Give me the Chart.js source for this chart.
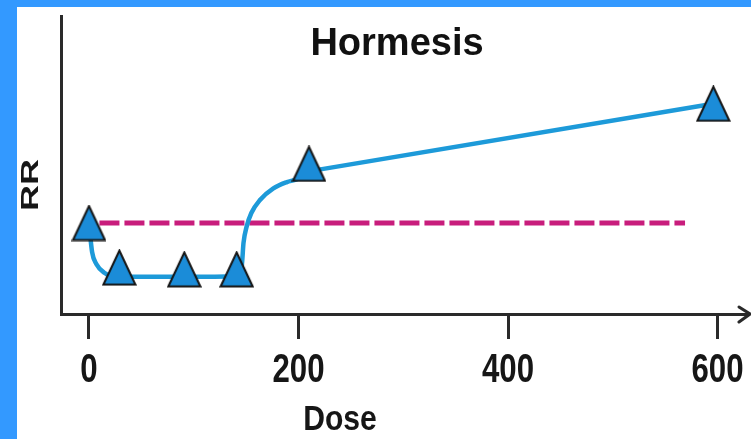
<!DOCTYPE html>
<html>
<head>
<meta charset="utf-8">
<script src="https://cdn.jsdelivr.net/npm/chart.js@4/dist/chart.umd.min.js"></script>
<style>
  html, body { margin: 0; padding: 0; background: #3399ff; overflow: hidden; }
  #frame { position: absolute; left: 17px; top: 7px; width: 734px; height: 432px; background: #fff; }
</style>
</head>
<body>
<div id="frame"><canvas id="DataChart"></canvas></div>
<script>
// measured points (triangles)
const markerDose = [0, 29, 91, 141, 210, 596];
const markerRR = [1.0, 0.51, 0.49, 0.49, 1.65, 2.31];

// the drawn curve, read along the line up to the 5th point
const curveDose = [0, 3, 7, 15, 24, 60, 120, 141, 146, 147.5, 150.5, 155, 163, 176, 189, 198, 211];
const curveRR = [1.0, 0.68, 0.55, 0.45, 0.41, 0.41, 0.41, 0.42, 0.55, 0.78, 0.96, 1.11, 1.25, 1.38, 1.45, 1.48, 1.57];

// straight part to the last point
const lineDose = [211, 596];
const lineRR = [1.57, 2.31];

// dashed reference line RR = 1
const refDose = [10, 569];
const refRR = [1.0, 1.0];

const xTicks = [0, 200, 400, 600];

const axisColor = '#2a2a2a';
const sans = "'Liberation Sans', Arial, sans-serif";

const toXY = (xs, ys) => xs.map((x, i) => ({ x: x, y: ys[i] }));

// triangle marker, a bit taller than equilateral like the original
function makeTriangle() {
  const c = document.createElement('canvas');
  c.width = 35; c.height = 37;
  const ctx = c.getContext('2d');
  ctx.beginPath();
  ctx.moveTo(17.5, 1.5);
  ctx.lineTo(33.5, 35.5);
  ctx.lineTo(1.5, 35.5);
  ctx.closePath();
  ctx.fillStyle = '#1b8cd8';
  ctx.fill();
  ctx.lineWidth = 2;
  ctx.strokeStyle = '#151515';
  ctx.stroke();
  return c;
}

// condensed text: squeeze horizontally
function squeezed(ctx, text, x, y, sx) {
  ctx.save();
  ctx.translate(x, y);
  ctx.scale(sx, 1);
  ctx.fillText(text, 0, 0);
  ctx.restore();
}

const decor = {
  id: 'decor',
  afterDraw: (chart) => {
    const ctx = chart.ctx;
    const area = chart.chartArea;
    const xs = chart.scales.x;
    ctx.save();
    ctx.fillStyle = '#111';
    ctx.textAlign = 'center';
    ctx.textBaseline = 'alphabetic';
    // title
    ctx.font = 'bold 38px ' + sans;
    ctx.fillText('Hormesis', 380, 48);
    // tick labels
    ctx.fillStyle = '#161616';
    ctx.font = 'bold 40px ' + sans;
    xTicks.forEach(v => squeezed(ctx, String(v), xs.getPixelForValue(v), 375, 0.78));
    // x axis title
    ctx.font = 'bold 35px ' + sans;
    squeezed(ctx, 'Dose', 323, 423, 0.86);
    // y axis title, stretched
    ctx.save();
    ctx.translate(13, 178);
    ctx.rotate(-Math.PI / 2);
    ctx.scale(1.5, 1);
    ctx.textBaseline = 'middle';
    ctx.font = 'bold 24px ' + sans;
    ctx.fillText('RR', 0, 1);
    ctx.restore();
    // arrow head at end of x axis
    const y0 = area.bottom;
    ctx.strokeStyle = axisColor;
    ctx.lineWidth = 3;
    ctx.lineCap = 'round';
    ctx.beginPath();
    ctx.moveTo(area.right - 9, y0 - 7);
    ctx.lineTo(area.right + 2, y0);
    ctx.lineTo(area.right - 9, y0 + 8);
    ctx.stroke();
    ctx.restore();
  }
};

const config = {
  type: 'line',
  data: {
    datasets: [
      {
        label: 'Points',
        data: toXY(markerDose, markerRR),
        showLine: false,
        pointStyle: makeTriangle(),
        pointRadius: 17,
        pointHoverRadius: 17
      },
      {
        label: 'Curve',
        data: toXY(curveDose, curveRR),
        borderColor: '#1d9ad9',
        borderWidth: 4.5,
        pointRadius: 0,
        cubicInterpolationMode: 'monotone',
        fill: false
      },
      {
        label: 'Line',
        data: toXY(lineDose, lineRR),
        borderColor: '#1d9ad9',
        borderWidth: 4.5,
        pointRadius: 0,
        tension: 0,
        fill: false
      },
      {
        label: 'Reference',
        data: toXY(refDose, refRR),
        borderColor: '#c81d7c',
        borderWidth: 5,
        borderDash: [20, 5],
        pointRadius: 0,
        fill: false
      }
    ]
  },
  options: {
    responsive: true,
    maintainAspectRatio: false,
    animation: false,
    layout: { autoPadding: false, padding: { left: 0, right: 3, top: 9, bottom: 0 } },
    scales: {
      x: {
        type: 'linear',
        min: -26.7,
        max: 629.1,
        afterFit: (scale) => {
          scale.height = 125;
          scale.paddingLeft = 0;
          scale.paddingRight = 0;
        },
        afterBuildTicks: (scale) => { scale.ticks = xTicks.map(v => ({ value: v })); },
        border: { display: true, color: axisColor, width: 3 },
        grid: { drawOnChartArea: false, drawTicks: true, tickLength: 25, tickWidth: 3, tickColor: axisColor },
        ticks: { display: false }
      },
      y: {
        type: 'linear',
        min: 0,
        max: 3.275,
        afterFit: (scale) => {
          scale.width = 44;
          scale.paddingTop = 0;
          scale.paddingBottom = 0;
        },
        border: { display: true, color: axisColor, width: 3 },
        grid: { display: false },
        ticks: { display: false }
      }
    },
    plugins: {
      legend: { display: false },
      tooltip: { enabled: false },
      title: { display: false }
    }
  },
  plugins: [decor]
};

new Chart(document.getElementById('DataChart'), config);
</script>
</body>
</html>
